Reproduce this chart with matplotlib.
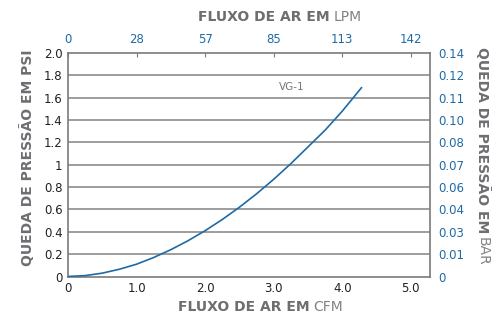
import matplotlib
matplotlib.use("Agg")
import matplotlib.pyplot as plt

plt.rcParams["font.family"] = ["DejaVu Sans"]

# data
cfm = [0, 0.25, 0.5, 0.75, 1.0, 1.25, 1.5, 1.75, 2.0, 2.25, 2.5, 2.75, 3.0,
       3.25, 3.5, 3.75, 4.0, 4.16, 4.28]
psi = [0, 0.008, 0.03, 0.065, 0.11, 0.17, 0.24, 0.32, 0.41, 0.51, 0.62, 0.74, 0.87,
       1.01, 1.16, 1.31, 1.48, 1.60, 1.69]
curve_name = "VG-1"

cfm_ticks = [0, 1, 2, 3, 4, 5]
cfm_labels = ["0", "1.0", "2.0", "3.0", "4.0", "5.0"]
lpm_labels = ["0", "28", "57", "85", "113", "142"]
psi_ticks = [0, 0.2, 0.4, 0.6, 0.8, 1.0, 1.2, 1.4, 1.6, 1.8, 2.0]
psi_labels = ["0", "0.2", "0.4", "0.6", "0.8", "1", "1.2", "1.4", "1.6", "1.8", "2.0"]
bar_labels = ["0", "0.01", "0.03", "0.04", "0.06", "0.07", "0.08", "0.10", "0.11", "0.12", "0.14"]

blue = "#1f6aa5"
gray_title = "#6d6e71"
grid_c = "#8c8c8c"
dark = "#231f20"

fig = plt.figure(figsize=(4.96, 3.16), dpi=100)
ax = fig.add_axes([0.137, 0.125, 0.730, 0.707])

ax.set_xlim(0, 5.28)
ax.set_ylim(0, 2.0)
for y in psi_ticks[1:-1]:
    ax.axhline(y, color=grid_c, lw=1.2, zorder=1)

ax.plot(cfm, psi, color=blue, lw=1.2, zorder=3)
ax.text(3.27, 1.70, curve_name, color="#777777", fontsize=7.5, ha="center", va="center")

for s in ax.spines.values():
    s.set_color("#7a7a7a")
    s.set_linewidth(1.2)

ax.set_xticks(cfm_ticks)
ax.set_xticklabels(cfm_labels)
ax.set_yticks(psi_ticks)
ax.set_yticklabels(psi_labels)
ax.tick_params(axis="both", length=0, labelsize=8.5, labelcolor=dark, pad=4)

axr = ax.twinx()
axr.set_ylim(0, 2.0)
axr.set_yticks(psi_ticks)
axr.set_yticklabels(bar_labels)
axr.tick_params(axis="y", length=0, labelsize=8.5, labelcolor=blue, pad=6)

axt = ax.twiny()
axt.set_xlim(0, 5.28)
axt.set_xticks(cfm_ticks)
axt.set_xticklabels(lpm_labels)
axt.tick_params(axis="x", direction="in", length=3, color="#7a7a7a",
                labelsize=8.5, labelcolor=blue, pad=5)
for a in (axr, axt):
    for s in a.spines.values():
        s.set_visible(False)

# axis titles: bold part + lighter unit
tfs = 10
fig.text(0.665, 0.945, "FLUXO DE AR EM", fontsize=tfs, fontweight="bold",
         color=gray_title, ha="right", va="center")
fig.text(0.672, 0.945, "LPM", fontsize=tfs, color="#808285", ha="left", va="center")

fig.text(0.625, 0.028, "FLUXO DE AR EM", fontsize=tfs, fontweight="bold",
         color=gray_title, ha="right", va="center")
fig.text(0.632, 0.028, "CFM", fontsize=tfs, color="#808285", ha="left", va="center")

fig.text(0.056, 0.50, "QUEDA DE PRESSÃO EM PSI", fontsize=tfs, fontweight="bold",
         color=gray_title, rotation=90, ha="center", va="center")

fig.text(0.973, 0.263, "QUEDA DE PRESSÃO EM", fontsize=tfs, fontweight="bold",
         color=gray_title, rotation=270, ha="center", va="bottom")
fig.text(0.973, 0.250, "BAR", fontsize=tfs, color="#808285",
         rotation=270, ha="center", va="top")

fig.savefig("out.png", dpi=100)
